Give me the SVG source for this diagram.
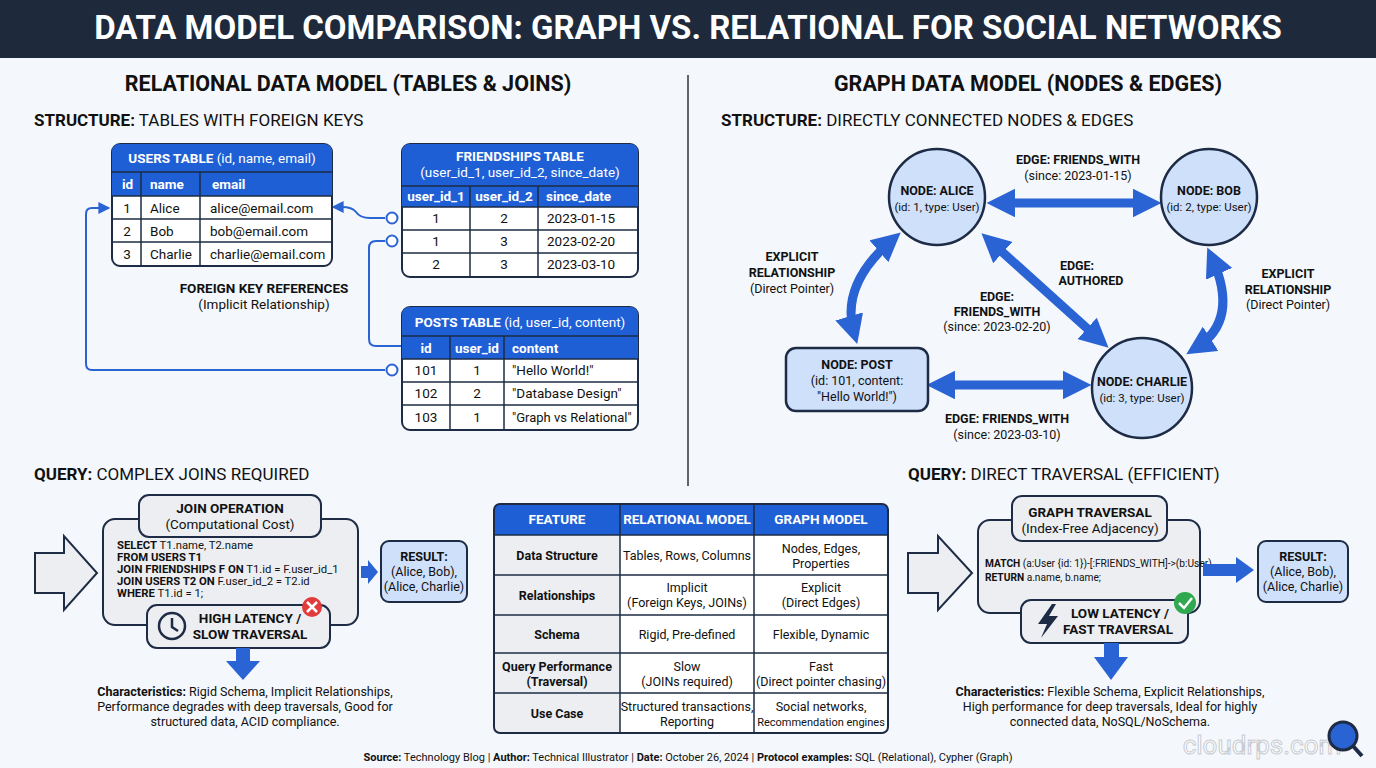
<svg xmlns="http://www.w3.org/2000/svg" width="1376" height="768" viewBox="0 0 1376 768">
<defs>
<style>
text{font-family:Roboto,"Liberation Sans",sans-serif;fill:#111}
.b{font-weight:bold}
.h{font-size:21.5px;font-weight:bold}
.s{font-size:17px}
.t{font-size:13.5px}
.n{font-size:12.5px}
.th{font-size:13.5px;font-weight:bold;fill:#fff}
.c{text-anchor:middle}
.tbl{fill:#fff;stroke:#1d2b44;stroke-width:2}
.hd{fill:#1f5fd6}
.ln{stroke:#1d2b44;stroke-width:1.5}
.con{fill:none;stroke:#2a63d4;stroke-width:2}
.node{fill:#cfe0fb;stroke:#1d2b44;stroke-width:2.5}
.edge{stroke:#2a63d4;stroke-width:9;fill:none}
.box{fill:#eceef2;stroke:#1d2b44;stroke-width:2}
.res{fill:#cfe0fb;stroke:#1d2b44;stroke-width:2}
</style>
<marker id="ar" viewBox="0 0 10 10" refX="8" refY="5" markerWidth="6" markerHeight="6" orient="auto-start-reverse"><path d="M0,0L10,5L0,10z" fill="#2a63d4"/></marker>
<marker id="big" viewBox="0 0 10 10" refX="6" refY="5" markerWidth="3.2" markerHeight="3.2" orient="auto-start-reverse"><path d="M0,0L10,5L0,10z" fill="#2a63d4"/></marker>
</defs>
<rect width="1376" height="768" fill="#f4f7fb"/>
<rect width="1376" height="58" fill="#1e2a3b"/>
<text x="688" y="39" class="c b" style="font-size:33px;fill:#fff">DATA MODEL COMPARISON: GRAPH VS. RELATIONAL FOR SOCIAL NETWORKS</text>
<line x1="688" y1="75" x2="688" y2="486" stroke="#333" stroke-width="1.5"/>
<text x="348" y="91" class="h c">RELATIONAL DATA MODEL (TABLES &amp; JOINS)</text>
<text x="1028" y="91" class="h c">GRAPH DATA MODEL (NODES &amp; EDGES)</text>
<text x="34" y="126" class="s"><tspan class="b">STRUCTURE:</tspan> TABLES WITH FOREIGN KEYS</text>
<text x="721" y="126" class="s"><tspan class="b">STRUCTURE:</tspan> DIRECTLY CONNECTED NODES &amp; EDGES</text>

<g id="connectors">
<path class="con" d="M385,218 H370 Q360,218 356,212 Q352,207 342,207 H334" marker-end="url(#ar)"/>
<circle cx="392" cy="218" r="5.5" fill="#fff" stroke="#2a63d4" stroke-width="2"/>
<path class="con" d="M385,241 H376 Q369,241 369,248 V339 Q369,346 376,346 H402"/>
<circle cx="392" cy="241" r="5.5" fill="#fff" stroke="#2a63d4" stroke-width="2"/>
<path class="con" d="M385,370 H92 Q86,370 86,364 V214 Q86,208 92,208 H108" marker-end="url(#ar)"/>
<circle cx="392" cy="370" r="5.5" fill="#fff" stroke="#2a63d4" stroke-width="2"/>
<line class="edge" x1="998" y1="203" x2="1150" y2="203" marker-start="url(#big)" marker-end="url(#big)"/>
<line class="edge" x1="990" y1="241" x2="1100" y2="340" marker-start="url(#big)" marker-end="url(#big)"/>
<line class="edge" x1="938" y1="385" x2="1080" y2="385" marker-start="url(#big)" marker-end="url(#big)"/>
<path class="edge" d="M892,240 Q840,285 854,333" marker-start="url(#big)" marker-end="url(#big)"/>
<path class="edge" d="M1212,258 Q1240,320 1196,348" marker-start="url(#big)" marker-end="url(#big)"/>
</g>

<g id="users">
<rect class="tbl" x="112" y="144" width="220" height="122" rx="8"/>
<path class="hd" d="M120,144 H324 Q332,144 332,152 V196 H112 V152 Q112,144 120,144z"/>
<text x="222" y="163" class="th c">USERS TABLE <tspan font-weight="normal">(id, name, email)</tspan></text>
<line class="ln" x1="112" y1="172" x2="332" y2="172"/>
<text x="122" y="189" class="th">id</text><text x="150" y="189" class="th">name</text><text x="212" y="189" class="th">email</text>
<g class="ln"><line x1="141" y1="172" x2="141" y2="266"/><line x1="200" y1="172" x2="200" y2="266"/><line x1="112" y1="196" x2="332" y2="196"/><line x1="112" y1="219" x2="332" y2="219"/><line x1="112" y1="242" x2="332" y2="242"/></g>
<text x="127" y="213" class="t c">1</text><text x="150" y="213" class="t">Alice</text><text x="210" y="213" class="t">alice@email.com</text>
<text x="127" y="236" class="t c">2</text><text x="150" y="236" class="t">Bob</text><text x="210" y="236" class="t">bob@email.com</text>
<text x="127" y="259" class="t c">3</text><text x="150" y="259" class="t">Charlie</text><text x="210" y="259" class="t">charlie@email.com</text>
</g>

<g id="friendships">
<rect class="tbl" x="402" y="144" width="236" height="133" rx="8"/>
<path class="hd" d="M410,144 H630 Q638,144 638,152 V207 H402 V152 Q402,144 410,144z"/>
<text x="520" y="161" class="th c">FRIENDSHIPS TABLE</text>
<text x="520" y="177" class="th c" style="font-weight:normal">(user_id_1, user_id_2, since_date)</text>
<line class="ln" x1="402" y1="186" x2="638" y2="186"/>
<text x="436" y="201" class="th c">user_id_1</text><text x="504" y="201" class="th c">user_id_2</text><text x="546" y="201" class="th">since_date</text>
<g class="ln"><line x1="470" y1="186" x2="470" y2="277"/><line x1="538" y1="186" x2="538" y2="277"/><line x1="402" y1="207" x2="638" y2="207"/><line x1="402" y1="230" x2="638" y2="230"/><line x1="402" y1="253" x2="638" y2="253"/></g>
<text x="436" y="223" class="t c">1</text><text x="504" y="223" class="t c">2</text><text x="547" y="223" class="t">2023-01-15</text>
<text x="436" y="246" class="t c">1</text><text x="504" y="246" class="t c">3</text><text x="547" y="246" class="t">2023-02-20</text>
<text x="436" y="269" class="t c">2</text><text x="504" y="269" class="t c">3</text><text x="547" y="269" class="t">2023-03-10</text>
</g>

<g id="posts">
<rect class="tbl" x="402" y="307" width="236" height="123" rx="8"/>
<path class="hd" d="M410,307 H630 Q638,307 638,315 V359 H402 V315 Q402,307 410,307z"/>
<text x="520" y="327" class="th c">POSTS TABLE <tspan font-weight="normal">(id, user_id, content)</tspan></text>
<line class="ln" x1="402" y1="336" x2="638" y2="336"/>
<text x="426" y="353" class="th c">id</text><text x="477" y="353" class="th c">user_id</text><text x="512" y="353" class="th">content</text>
<g class="ln"><line x1="450" y1="336" x2="450" y2="430"/><line x1="504" y1="336" x2="504" y2="430"/><line x1="402" y1="359" x2="638" y2="359"/><line x1="402" y1="382" x2="638" y2="382"/><line x1="402" y1="405" x2="638" y2="405"/></g>
<text x="426" y="375" class="t c">101</text><text x="477" y="375" class="t c">1</text><text x="512" y="375" class="t">"Hello World!"</text>
<text x="426" y="398" class="t c">102</text><text x="477" y="398" class="t c">2</text><text x="512" y="398" class="t">"Database Design"</text>
<text x="426" y="422" class="t c">103</text><text x="477" y="422" class="t c">1</text><text x="512" y="422" class="t" style="font-size:13px">"Graph vs Relational"</text>
</g>
<text x="264" y="293" class="t c b">FOREIGN KEY REFERENCES</text>
<text x="264" y="309" class="t c">(Implicit Relationship)</text>

<g id="alice"><circle class="node" cx="937" cy="197" r="48"/><text x="937" y="195" class="n c b">NODE: ALICE</text><text x="937" y="211" class="n c" style="font-size:11.5px">(id: 1, type: User)</text></g>
<g id="bob"><circle class="node" cx="1209" cy="197" r="48"/><text x="1209" y="195" class="n c b">NODE: BOB</text><text x="1209" y="211" class="n c" style="font-size:11.5px">(id: 2, type: User)</text></g>
<g id="charlie"><circle class="node" cx="1142" cy="388" r="50"/><text x="1142" y="386" class="n c b">NODE: CHARLIE</text><text x="1142" y="402" class="n c" style="font-size:11.5px">(id: 3, type: User)</text></g>
<g id="post"><rect class="node" x="786" y="348" width="142" height="63" rx="10"/><text x="857" y="369" class="n c b">NODE: POST</text><text x="857" y="385" class="n c">(id: 101, content:</text><text x="857" y="401" class="n c">"Hello World!")</text></g>
<text x="1078" y="164" class="n c b">EDGE: FRIENDS_WITH</text><text x="1078" y="180" class="n c">(since: 2023-01-15)</text>
<text x="1077" y="270" class="n c b">EDGE:</text><text x="1091" y="285" class="n c b">AUTHORED</text>
<text x="997" y="301" class="n c b">EDGE:</text><text x="997" y="316" class="n c b">FRIENDS_WITH</text><text x="997" y="331" class="n c">(since: 2023-02-20)</text>
<text x="1007" y="423" class="n c b">EDGE: FRIENDS_WITH</text><text x="1007" y="439" class="n c">(since: 2023-03-10)</text>
<text x="792" y="261" class="n c b">EXPLICIT</text><text x="792" y="277" class="n c b">RELATIONSHIP</text><text x="792" y="293" class="n c">(Direct Pointer)</text>
<text x="1288" y="278" class="n c b">EXPLICIT</text><text x="1288" y="294" class="n c b">RELATIONSHIP</text><text x="1288" y="309" class="n c">(Direct Pointer)</text>

<text x="34" y="480" class="s"><tspan class="b">QUERY:</tspan> COMPLEX JOINS REQUIRED</text>
<text x="908" y="480" class="s"><tspan class="b">QUERY:</tspan> DIRECT TRAVERSAL (EFFICIENT)</text>

<g id="join">
<path d="M35,553 H64 V536 L97,573 L64,610 V593 H35z" fill="#eceef2" stroke="#1d2b44" stroke-width="2"/>
<rect class="box" x="103" y="519" width="255" height="106" rx="12"/>
<rect class="box" x="139" y="495" width="182" height="42" rx="10"/>
<text x="230" y="513" class="t c b">JOIN OPERATION</text><text x="230" y="529" class="t c">(Computational Cost)</text>
<text x="117" y="549" style="font-size:11.3px"><tspan class="b">SELECT</tspan> T1.name, T2.name</text>
<text x="117" y="561" style="font-size:11.3px" class="b">FROM USERS T1</text>
<text x="117" y="573" style="font-size:11.3px"><tspan class="b">JOIN FRIENDSHIPS F ON</tspan> T1.id = F.user_id_1</text>
<text x="117" y="585" style="font-size:11.3px"><tspan class="b">JOIN USERS T2 ON</tspan> F.user_id_2 = T2.id</text>
<text x="117" y="597" style="font-size:11.3px"><tspan class="b">WHERE</tspan> T1.id = 1;</text>
<rect class="box" x="147" y="605" width="183" height="43" rx="10"/>
<circle cx="172" cy="626" r="13" fill="none" stroke="#1d2b44" stroke-width="2.5"/><path d="M172,618 V627 L178,631" fill="none" stroke="#1d2b44" stroke-width="2.5"/>
<text x="250" y="623" class="t c b">HIGH LATENCY /</text><text x="250" y="639" class="t c b">SLOW TRAVERSAL</text>
<circle cx="312" cy="607" r="10" fill="#e23b3b"/><path d="M307,602 L317,612 M317,602 L307,612" stroke="#fff" stroke-width="2.5"/>
<path d="M361,566 H368 V560 L378,572 L368,584 V578 H361z" fill="#2a63d4"/>
<rect class="res" x="381" y="541" width="86" height="61" rx="8"/>
<text x="424" y="561" class="n c b">RESULT:</text><text x="424" y="576" class="n c">(Alice, Bob),</text><text x="424" y="591" class="n c">(Alice, Charlie)</text>
<path d="M236,648 H250 V661 H260 L243,680 L226,661 H236z" fill="#2a63d4"/>
<text x="245" y="696" class="c" style="font-size:12.5px"><tspan class="b">Characteristics:</tspan> Rigid Schema, Implicit Relationships,</text>
<text x="245" y="711" class="c" style="font-size:12.5px">Performance degrades with deep traversals, Good for</text>
<text x="245" y="726" class="c" style="font-size:12.5px">structured data, ACID compliance.</text>
</g>

<g id="comparison">
<rect x="494" y="504" width="394" height="229" rx="6" fill="#fff"/>
<path class="hd" d="M500,504 H882 Q888,504 888,510 V535 H494 V510 Q494,504 500,504z"/>
<rect x="494" y="535" width="126" height="198" fill="#eceef2"/>
<g class="ln"><line x1="620" y1="504" x2="620" y2="733"/><line x1="754" y1="504" x2="754" y2="733"/><line x1="494" y1="535" x2="888" y2="535"/><line x1="494" y1="575" x2="888" y2="575"/><line x1="494" y1="615" x2="888" y2="615"/><line x1="494" y1="653" x2="888" y2="653"/><line x1="494" y1="693" x2="888" y2="693"/></g>
<rect x="494" y="504" width="394" height="229" rx="6" style="fill:none;stroke:#1d2b44;stroke-width:2"/>
<text x="557" y="524" class="th c">FEATURE</text><text x="687" y="524" class="th c">RELATIONAL MODEL</text><text x="821" y="524" class="th c">GRAPH MODEL</text>
<text x="557" y="560" class="n c b">Data Structure</text><text x="687" y="560" class="n c">Tables, Rows, Columns</text><text x="821" y="553" class="n c">Nodes, Edges,</text><text x="821" y="568" class="n c">Properties</text>
<text x="557" y="600" class="n c b">Relationships</text><text x="687" y="592" class="n c">Implicit</text><text x="687" y="607" class="n c">(Foreign Keys, JOINs)</text><text x="821" y="592" class="n c">Explicit</text><text x="821" y="607" class="n c">(Direct Edges)</text>
<text x="557" y="639" class="n c b">Schema</text><text x="687" y="639" class="n c">Rigid, Pre-defined</text><text x="821" y="639" class="n c">Flexible, Dynamic</text>
<text x="557" y="671" class="n c b">Query Performance</text><text x="557" y="686" class="n c b">(Traversal)</text><text x="687" y="671" class="n c">Slow</text><text x="687" y="686" class="n c">(JOINs required)</text><text x="821" y="671" class="n c">Fast</text><text x="821" y="686" class="n c">(Direct pointer chasing)</text>
<text x="557" y="718" class="n c b">Use Case</text><text x="687" y="711" class="n c">Structured transactions,</text><text x="687" y="726" class="n c">Reporting</text><text x="821" y="711" class="n c">Social networks,</text><text x="821" y="726" class="c" style="font-size:11px">Recommendation engines</text>
</g>

<g id="traversal">
<path d="M908,553 H938 V536 L972,573 L938,610 V593 H908z" fill="#eceef2" stroke="#1d2b44" stroke-width="2"/>
<rect class="box" x="978" y="520" width="222" height="93" rx="12"/>
<rect class="box" x="1012" y="496" width="155" height="45" rx="10"/>
<text x="1090" y="517" class="t c b">GRAPH TRAVERSAL</text><text x="1090" y="533" class="t c">(Index-Free Adjacency)</text>
<text x="985" y="567" style="font-size:10.2px"><tspan class="b">MATCH</tspan> (a:User {id: 1})-[:FRIENDS_WITH]-&gt;(b:User)</text>
<text x="985" y="581" style="font-size:10.2px"><tspan class="b">RETURN</tspan> a.name, b.name;</text>
<rect class="box" x="1021" y="600" width="167" height="43" rx="10"/>
<path d="M1052,604 L1038,624 H1047 L1041,638 L1058,616 H1049 L1056,604z" fill="#1d2b44"/>
<text x="1120" y="618" class="t c b">LOW LATENCY /</text><text x="1118" y="634" class="t c b">FAST TRAVERSAL</text>
<circle cx="1185" cy="603" r="11" fill="#2fa84f"/><path d="M1179,603 L1184,608 L1192,598" fill="none" stroke="#fff" stroke-width="2.5"/>
<path d="M1203,564 H1236 V557 L1254,570 L1236,583 V576 H1203z" fill="#2a63d4"/>
<rect class="res" x="1258" y="541" width="90" height="61" rx="8"/>
<text x="1303" y="561" class="n c b">RESULT:</text><text x="1303" y="576" class="n c">(Alice, Bob),</text><text x="1303" y="591" class="n c">(Alice, Charlie)</text>
<path d="M1104,643 H1119 V657 H1128 L1111,680 L1094,657 H1104z" fill="#2a63d4"/>
<text x="1110" y="696" class="c" style="font-size:12.5px"><tspan class="b">Characteristics:</tspan> Flexible Schema, Explicit Relationships,</text>
<text x="1110" y="711" class="c" style="font-size:12.5px">High performance for deep traversals, Ideal for highly</text>
<text x="1110" y="726" class="c" style="font-size:12.5px">connected data, NoSQL/NoSchema.</text>
</g>

<text x="1262" y="754" class="c" style="font-size:26px;fill:#fff;stroke:#c8ccd2;stroke-width:1">cloudrps.com</text>
<circle cx="1343" cy="736" r="14" fill="#2a63d4" stroke="#1d2b44" stroke-width="3"/>
<line x1="1353" y1="746" x2="1362" y2="756" stroke="#1d2b44" stroke-width="4"/>
<text x="688" y="761" class="c" style="font-size:11px"><tspan class="b">Source:</tspan> Technology Blog | <tspan class="b">Author:</tspan> Technical Illustrator | <tspan class="b">Date:</tspan> October 26, 2024 | <tspan class="b">Protocol examples:</tspan> SQL (Relational), Cypher (Graph)</text>
</svg>
